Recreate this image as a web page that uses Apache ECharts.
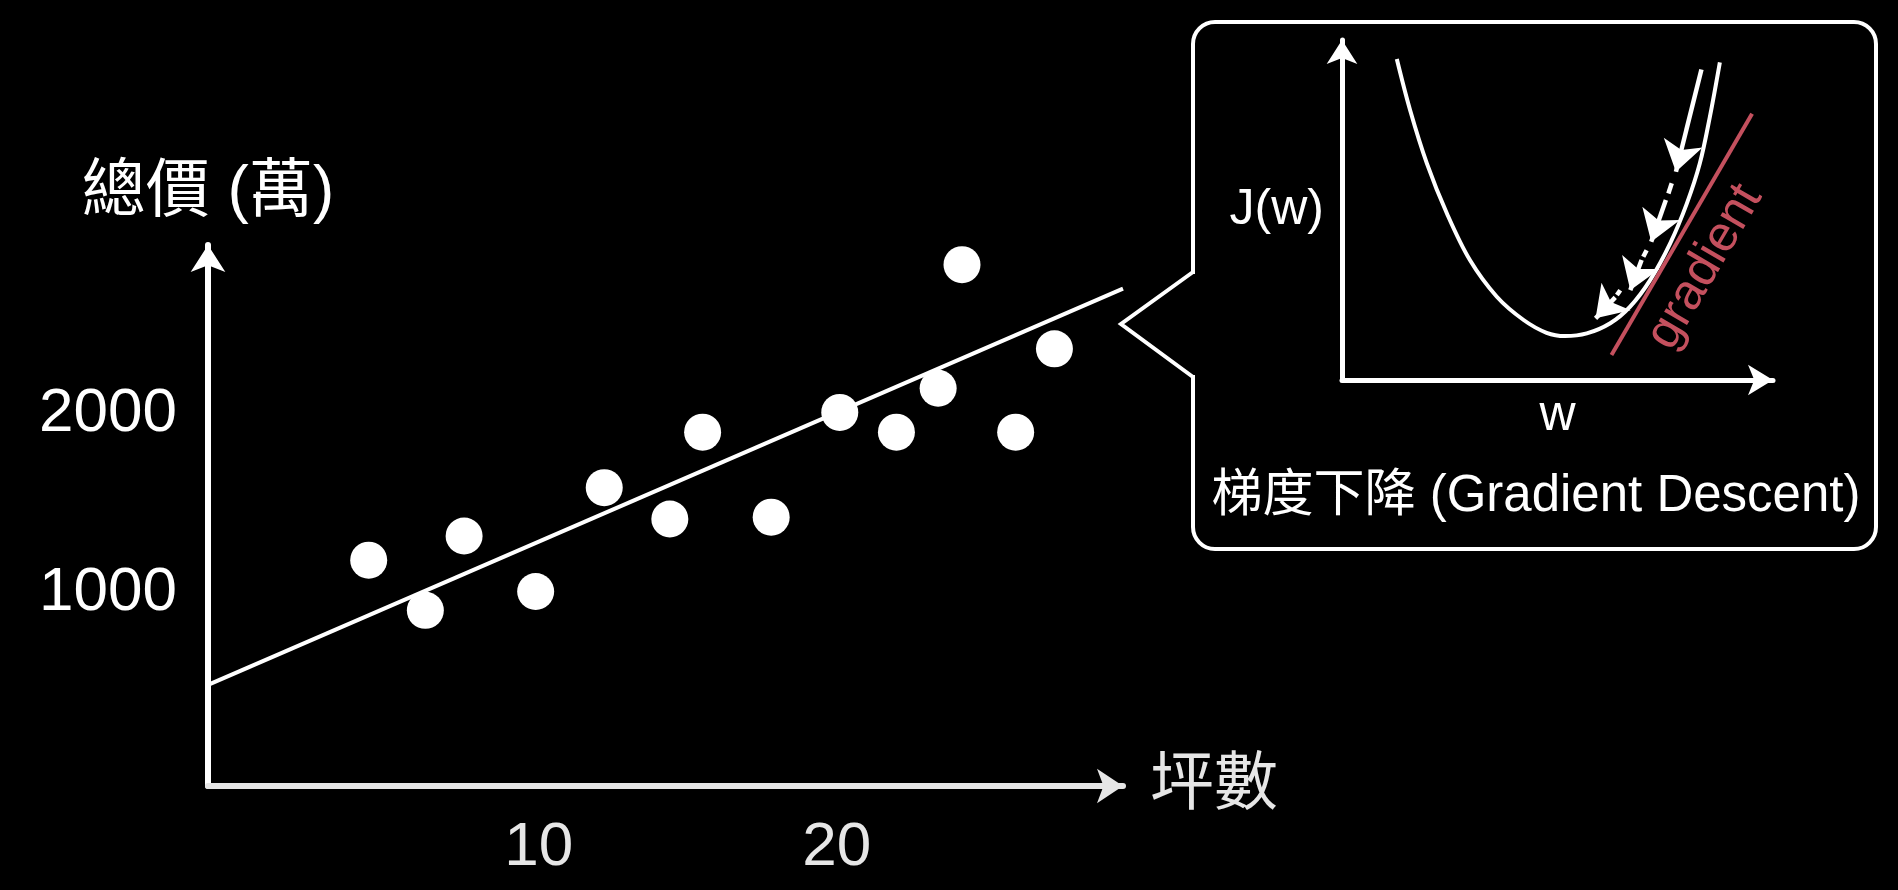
<!DOCTYPE html>
<html>
<head>
<meta charset="utf-8">
<script src="https://cdn.jsdelivr.net/npm/echarts@6/dist/echarts.min.js"></script>
<style>
html,body{margin:0;padding:0;background:#000;}
#c{width:1898px;height:890px;}
</style>
</head>
<body>
<div id="c"></div>
<script>
// ---- main chart data: 坪數 vs 總價 (萬) ----
const areaPing = [4.3, 6.2, 7.5, 9.9, 12.2, 14.4, 15.5, 17.8, 20.1, 22.0, 23.4, 24.2, 26.0, 27.3];
const totalPrice = [1185, 905, 1320, 1010, 1590, 1415, 1900, 1425, 2010, 1900, 2145, 2835, 1900, 2365];
// fitted regression line end points
const fitPing = [-1.09, 29.6];
const fitPrice = [489, 2701];
const xTickValues = [10, 20];
const yTickValues = [1000, 2000];

// ---- inset: cost curve J(w) (inset units) ----
const curveW = [13.1, 16.3, 20.3, 25.1, 30.6, 37.0, 43.4, 48.9, 53.3, 58.5, 64.1, 68.8, 73.6, 78.4, 82.4, 85.5, 87.9, 90.3];
const curveJ = [97.9, 82.2, 66.0, 50.7, 36.5, 25.4, 18.3, 14.4, 13.4, 14.2, 17.3, 22.3, 30.4, 41.6, 53.8, 66.0, 80.2, 96.9];
// gradient (tangent) line
const gradW = [64.4, 98.0];
const gradJ = [7.6, 81.2];
// descent step arrows (start -> tip)
const stepW0 = [85.9, 77.4, 71.6, 65.3];
const stepJ0 = [94.7, 54.9, 36.6, 25.2];
const stepW1 = [79.8, 73.9, 68.9, 60.6];
const stepJ1 = [63.5, 42.2, 27.4, 18.8];
// short dashes before steps 2-4
const dashW0 = [78.8, 72.8, 66.5];
const dashJ0 = [60.0, 39.6, 27.4];
const dashW1 = [78.0, 72.0, 65.7];
const dashJ1 = [56.9, 37.6, 25.9];

const FONT = "'Liberation Sans', 'Noto Sans CJK TC', sans-serif";
const RED = '#c4505e';
const XGRAY = '#e6e6e6';

const zip = (a, b) => a.map((v, i) => [v, b[i]]);
const segs = (x0, y0, x1, y1) => x0.map((v, i) => ({coords: [[v, y0[i]], [x1[i], y1[i]]]}));

const chart = echarts.init(document.getElementById('c'), null, {renderer: 'canvas'});

const option = {
  backgroundColor: '#000',
  animation: false,
  grid: [
    {left: 208, top: 245, right: 775, bottom: 104, outerBoundsMode: 'none', containLabel: false},
    {left: 1342, top: 40, right: 125, bottom: 510, outerBoundsMode: 'none', containLabel: false}
  ],
  xAxis: [
    {
      gridIndex: 0, type: 'value', min: -1.09, max: 29.6,
      splitLine: {show: false}, axisTick: {show: false},
      axisLine: {show: true, onZero: false, symbol: ['none', 'arrow'], symbolSize: [26, 26],
        lineStyle: {color: XGRAY, width: 6}},
      axisLabel: {customValues: xTickValues, color: XGRAY, fontSize: 62, margin: 31, fontFamily: FONT,
        formatter: (v) => String(v)},
      name: '坪數', nameLocation: 'end', nameGap: 27, nameMoveOverlap: false,
      nameTextStyle: {color: XGRAY, fontSize: 64, fontFamily: FONT}
    },
    {
      gridIndex: 1, type: 'value', min: 0, max: 103,
      splitLine: {show: false}, axisTick: {show: false}, axisLabel: {show: false},
      axisLine: {show: true, onZero: false, symbol: ['none', 'arrow'], symbolSize: [23, 25],
        lineStyle: {color: '#fff', width: 5}},
      name: 'w', nameLocation: 'middle', nameGap: 11, nameMoveOverlap: false,
      nameTextStyle: {color: '#fff', fontSize: 50, fontFamily: FONT}
    }
  ],
  yAxis: [
    {
      gridIndex: 0, type: 'value', min: -76, max: 2945,
      splitLine: {show: false}, axisTick: {show: false},
      axisLine: {show: true, onZero: false, symbol: ['none', 'arrow'], symbolSize: [26, 27],
        lineStyle: {color: '#fff', width: 6}},
      axisLabel: {customValues: yTickValues, color: '#fff', fontSize: 62, margin: 31, fontFamily: FONT,
        formatter: (v) => String(v)},
      name: '總價 (萬)', nameLocation: 'end', nameGap: 20, nameMoveOverlap: false,
      nameTextStyle: {color: '#fff', fontSize: 64, fontFamily: FONT}
    },
    {
      gridIndex: 1, type: 'value', min: 0, max: 103.7,
      splitLine: {show: false}, axisTick: {show: false}, axisLabel: {show: false},
      axisLine: {show: true, onZero: false, symbol: ['none', 'arrow'], symbolSize: [23, 24],
        lineStyle: {color: '#fff', width: 5}},
      name: 'J(w)', nameLocation: 'middle', nameRotate: 0, nameGap: 18, nameMoveOverlap: false,
      nameTextStyle: {color: '#fff', fontSize: 50, fontFamily: FONT, padding: [16, 0, 0, 0]}
    }
  ],
  series: [
    {
      type: 'lines', coordinateSystem: 'cartesian2d', xAxisIndex: 0, yAxisIndex: 0, clip: false,
      symbol: 'none', lineStyle: {color: '#fff', width: 4, opacity: 1, curveness: 0}, z: 2,
      data: [{coords: zip(fitPing, fitPrice)}]
    },
    {
      type: 'scatter', xAxisIndex: 0, yAxisIndex: 0, data: zip(areaPing, totalPrice),
      symbolSize: 37, itemStyle: {color: '#fff', opacity: 1}, z: 3
    },
    {
      type: 'line', xAxisIndex: 1, yAxisIndex: 1, data: zip(curveW, curveJ),
      symbol: 'none', smooth: 0.35, clip: false, lineStyle: {color: '#fff', width: 4}
    },
    {
      type: 'line', xAxisIndex: 1, yAxisIndex: 1, data: zip(gradW, gradJ),
      symbol: 'none', clip: false, lineStyle: {color: RED, width: 4}
    },
    {
      type: 'lines', coordinateSystem: 'cartesian2d', xAxisIndex: 1, yAxisIndex: 1, clip: false,
      symbol: ['none', 'arrow'], symbolSize: [30, 30],
      lineStyle: {color: '#fff', width: 4.5, opacity: 1, curveness: 0},
      data: segs(stepW0, stepJ0, stepW1, stepJ1)
    },
    {
      type: 'lines', coordinateSystem: 'cartesian2d', xAxisIndex: 1, yAxisIndex: 1, clip: false,
      symbol: 'none',
      lineStyle: {color: '#fff', width: 4.5, opacity: 1, curveness: 0},
      data: segs(dashW0, dashJ0, dashW1, dashJ1)
    }
  ],
  graphic: [
    {
      type: 'rect', silent: true, z: 10,
      shape: {x: 1193, y: 22, width: 683, height: 527, r: 22},
      style: {fill: 'none', stroke: '#fff', lineWidth: 4}
    },
    {
      type: 'rect', silent: true, z: 11,
      shape: {x: 1189, y: 274, width: 8, height: 101},
      style: {fill: '#000'}
    },
    {
      type: 'polyline', silent: true, z: 12,
      shape: {points: [[1193, 272], [1121, 324], [1193, 377]]},
      style: {fill: 'none', stroke: '#fff', lineWidth: 4, lineJoin: 'miter'}
    },
    {
      type: 'text', x: 1705, y: 267, rotation: 59.7 * Math.PI / 180, silent: true, z: 10,
      style: {text: 'gradient', fill: RED, font: '50px ' + FONT, align: 'center', verticalAlign: 'middle'}
    },
    {
      type: 'text', x: 1536, y: 497, silent: true, z: 10,
      style: {text: '梯度下降 (Gradient Descent)', fill: '#fff', font: '51px ' + FONT, align: 'center', verticalAlign: 'middle'}
    }
  ]
};

chart.setOption(option);
</script>
</body>
</html>
